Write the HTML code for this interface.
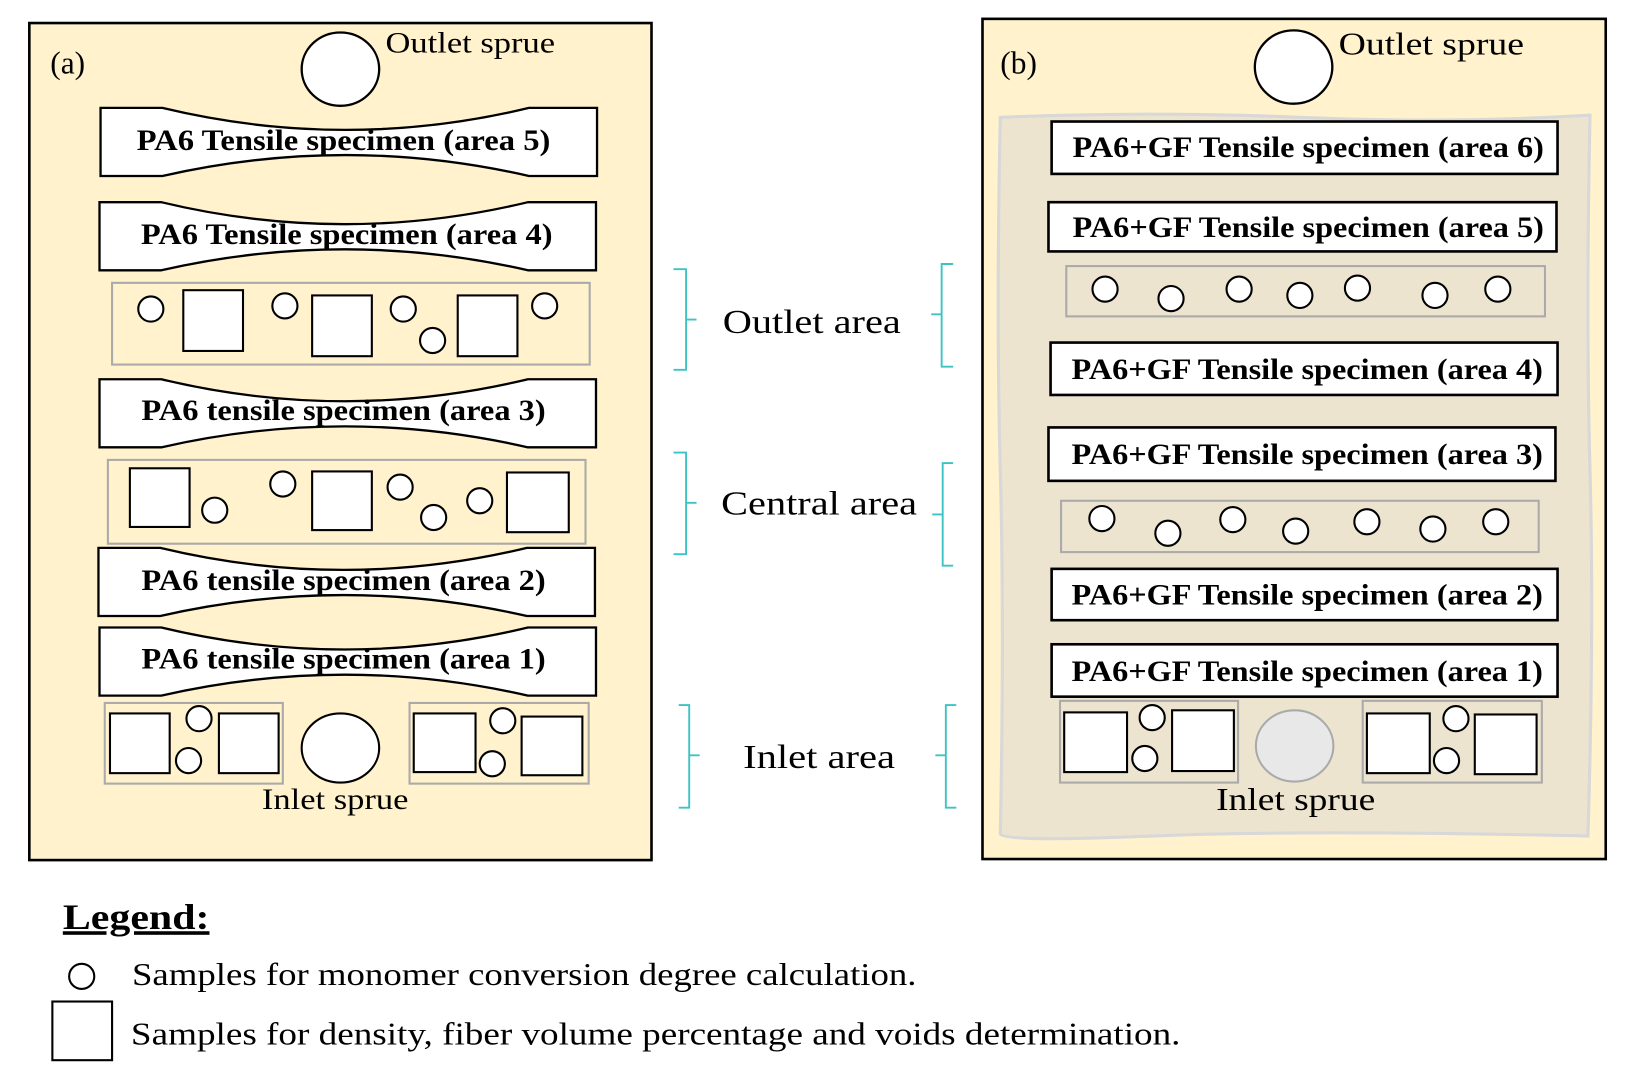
<!DOCTYPE html>
<html><head><meta charset="utf-8"><style>
html,body{margin:0;padding:0;background:#fff;}
svg{display:block;}
text{font-family:"Liberation Serif",serif;}
.sp{font-weight:bold;font-size:28px;text-anchor:middle;}
</style></head><body>
<svg width="1634" height="1078" viewBox="0 0 1560 1029" preserveAspectRatio="none" xmlns="http://www.w3.org/2000/svg">
<defs>
<path id="dog" d="M0,0 H59 Q234,42 409,0 H474 V65 H409 Q234,25 59,65 H0 Z" fill="#fff" stroke="#000" stroke-width="2.2"/>
</defs>
<!-- panel a -->
<rect x="28" y="22" width="594" height="799" fill="#fff2cc" stroke="#000" stroke-width="2.5"/>
<text x="48" y="70" font-size="30">(a)</text>
<ellipse cx="325" cy="66" rx="37" ry="35" fill="#fff" stroke="#000" stroke-width="2.2"/>
<text x="368" y="50" font-size="28" textLength="162" lengthAdjust="spacingAndGlyphs">Outlet sprue</text>
<use href="#dog" x="96" y="103"/>
<text class="sp" x="328" y="143" textLength="395" lengthAdjust="spacingAndGlyphs">PA6 Tensile specimen (area 5)</text>
<use href="#dog" x="95" y="193"/>
<text class="sp" x="331" y="233" textLength="393" lengthAdjust="spacingAndGlyphs">PA6 Tensile specimen (area 4)</text>
<rect x="107" y="270" width="456" height="78" fill="none" stroke="#aaa" stroke-width="2"/>
<g fill="#fff" stroke="#000" stroke-width="2">
<circle cx="144" cy="295" r="12"/><rect x="175" y="277" width="57" height="58"/>
<circle cx="272" cy="292" r="12"/><rect x="298" y="282" width="57" height="58"/>
<circle cx="385" cy="295" r="12"/><circle cx="413" cy="325" r="12"/>
<rect x="437" y="282" width="57" height="58"/><circle cx="520" cy="292" r="12"/>
</g>
<use href="#dog" x="95" y="362"/>
<text class="sp" x="328" y="401" textLength="386" lengthAdjust="spacingAndGlyphs">PA6 tensile specimen (area 3)</text>
<rect x="103" y="439" width="456" height="80" fill="none" stroke="#aaa" stroke-width="2"/>
<g fill="#fff" stroke="#000" stroke-width="2">
<rect x="124" y="447" width="57" height="56"/><circle cx="205" cy="487" r="12"/>
<circle cx="270" cy="462" r="12"/><rect x="298" y="450" width="57" height="56"/>
<circle cx="382" cy="465" r="12"/><circle cx="414" cy="494" r="12"/>
<circle cx="458" cy="478" r="12"/><rect x="484" y="451" width="59" height="57"/>
</g>
<use href="#dog" x="94" y="523"/>
<text class="sp" x="328" y="563" textLength="386" lengthAdjust="spacingAndGlyphs">PA6 tensile specimen (area 2)</text>
<use href="#dog" x="95" y="599"/>
<text class="sp" x="328" y="638" textLength="386" lengthAdjust="spacingAndGlyphs">PA6 tensile specimen (area 1)</text>
<rect x="100" y="671" width="170" height="77" fill="none" stroke="#aaa" stroke-width="2"/>
<rect x="391" y="671" width="171" height="77" fill="none" stroke="#aaa" stroke-width="2"/>
<g fill="#fff" stroke="#000" stroke-width="2">
<rect x="105" y="681" width="57" height="57"/><circle cx="190" cy="686" r="12"/>
<circle cx="180" cy="726" r="12"/><rect x="209" y="681" width="57" height="57"/>
<ellipse cx="325" cy="714" rx="37" ry="33"/>
<rect x="395" y="681" width="59" height="56"/><circle cx="480" cy="688" r="12"/>
<circle cx="470" cy="729" r="12"/><rect x="498" y="684" width="58" height="56"/>
</g>
<text x="320" y="772" font-size="28" text-anchor="middle" textLength="140" lengthAdjust="spacingAndGlyphs">Inlet sprue</text>
<!-- braces -->
<g fill="none" stroke="#3cc3c3" stroke-width="1.8">
<path d="M643,257 H655 V305 H665 M655,305 V353 H643"/>
<path d="M643,432 H655 V480 H665 M655,480 V529 H643"/>
<path d="M648,673 H658 V721 H668 M658,721 V771 H648"/>
<path d="M910,252 H899 V300 H889 M899,300 V350 H910"/>
<path d="M910,442 H900 V491 H890 M900,491 V540 H910"/>
<path d="M913,673 H903 V721 H893 M903,721 V771 H913"/>
</g>
<text x="775" y="318" font-size="32" text-anchor="middle" textLength="170" lengthAdjust="spacingAndGlyphs">Outlet area</text>
<text x="782" y="491" font-size="32" text-anchor="middle" textLength="187" lengthAdjust="spacingAndGlyphs">Central area</text>
<text x="782" y="733" font-size="32" text-anchor="middle" textLength="145" lengthAdjust="spacingAndGlyphs">Inlet area</text>
<!-- panel b -->
<rect x="938" y="18" width="595" height="802" fill="#fff2cc" stroke="#000" stroke-width="2.5"/>
<path d="M955,112 Q1100,106 1240,112 T1518,110 Q1514,300 1518,450 T1516,798 Q1240,792 1100,798 T955,796 Q959,600 955,450 T955,112 Z" fill="#ede4d0" stroke="#d8d8d8" stroke-width="3"/>
<text x="955" y="70" font-size="30">(b)</text>
<ellipse cx="1235" cy="64" rx="37" ry="35" fill="#fff" stroke="#000" stroke-width="2.2"/>
<text x="1278" y="52" font-size="30" textLength="177" lengthAdjust="spacingAndGlyphs">Outlet sprue</text>
<g fill="#fff" stroke="#000" stroke-width="2.5">
<rect x="1004" y="116" width="483" height="50"/>
<rect x="1001" y="193" width="485" height="47"/>
<rect x="1003" y="327" width="484" height="50"/>
<rect x="1001" y="408" width="484" height="51"/>
<rect x="1004" y="543" width="483" height="49"/>
<rect x="1004" y="615" width="483" height="50"/>
</g>
<text class="sp" x="1249" y="150" textLength="450" lengthAdjust="spacingAndGlyphs">PA6+GF Tensile specimen (area 6)</text>
<text class="sp" x="1249" y="226" textLength="450" lengthAdjust="spacingAndGlyphs">PA6+GF Tensile specimen (area 5)</text>
<text class="sp" x="1248" y="362" textLength="450" lengthAdjust="spacingAndGlyphs">PA6+GF Tensile specimen (area 4)</text>
<text class="sp" x="1248" y="443" textLength="450" lengthAdjust="spacingAndGlyphs">PA6+GF Tensile specimen (area 3)</text>
<text class="sp" x="1248" y="577" textLength="450" lengthAdjust="spacingAndGlyphs">PA6+GF Tensile specimen (area 2)</text>
<text class="sp" x="1248" y="650" textLength="450" lengthAdjust="spacingAndGlyphs">PA6+GF Tensile specimen (area 1)</text>
<rect x="1018" y="254" width="457" height="48" fill="none" stroke="#aaa" stroke-width="2"/>
<rect x="1013" y="478" width="456" height="49" fill="none" stroke="#aaa" stroke-width="2"/>
<g fill="#fff" stroke="#000" stroke-width="2">
<circle cx="1055" cy="276" r="12"/><circle cx="1118" cy="285" r="12"/><circle cx="1183" cy="276" r="12"/><circle cx="1241" cy="282" r="12"/><circle cx="1296" cy="275" r="12"/><circle cx="1370" cy="282" r="12"/><circle cx="1430" cy="276" r="12"/>
<circle cx="1052" cy="495" r="12"/><circle cx="1115" cy="509" r="12"/><circle cx="1177" cy="496" r="12"/><circle cx="1237" cy="507" r="12"/><circle cx="1305" cy="498" r="12"/><circle cx="1368" cy="505" r="12"/><circle cx="1428" cy="498" r="12"/>
</g>
<rect x="1012" y="669" width="170" height="78" fill="none" stroke="#aaa" stroke-width="2"/>
<rect x="1301" y="669" width="171" height="78" fill="none" stroke="#aaa" stroke-width="2"/>
<g fill="#fff" stroke="#000" stroke-width="2">
<rect x="1016" y="680" width="60" height="57"/><circle cx="1100" cy="685" r="12"/>
<circle cx="1093" cy="724" r="12"/><rect x="1119" y="678" width="59" height="58"/>
<rect x="1305" y="681" width="60" height="57"/><circle cx="1390" cy="686" r="12"/>
<circle cx="1381" cy="726" r="12"/><rect x="1408" y="682" width="59" height="57"/>
</g>
<ellipse cx="1236" cy="712" rx="37" ry="34" fill="#e8e8e8" stroke="#aaa" stroke-width="2"/>
<text x="1237" y="773" font-size="30" text-anchor="middle" textLength="152" lengthAdjust="spacingAndGlyphs">Inlet sprue</text>
<!-- legend -->
<text x="60" y="887" font-size="34" font-weight="bold" text-decoration="underline" textLength="140" lengthAdjust="spacingAndGlyphs">Legend:</text>
<circle cx="78" cy="932" r="12" fill="#fff" stroke="#000" stroke-width="2"/>
<text x="126" y="940" font-size="30" textLength="749" lengthAdjust="spacingAndGlyphs">Samples for monomer conversion degree calculation.</text>
<rect x="50" y="956" width="57" height="56" fill="#fff" stroke="#000" stroke-width="2"/>
<text x="125" y="997" font-size="30" textLength="1002" lengthAdjust="spacingAndGlyphs">Samples for density, fiber volume percentage and voids determination.</text>
</svg>
</body></html>
